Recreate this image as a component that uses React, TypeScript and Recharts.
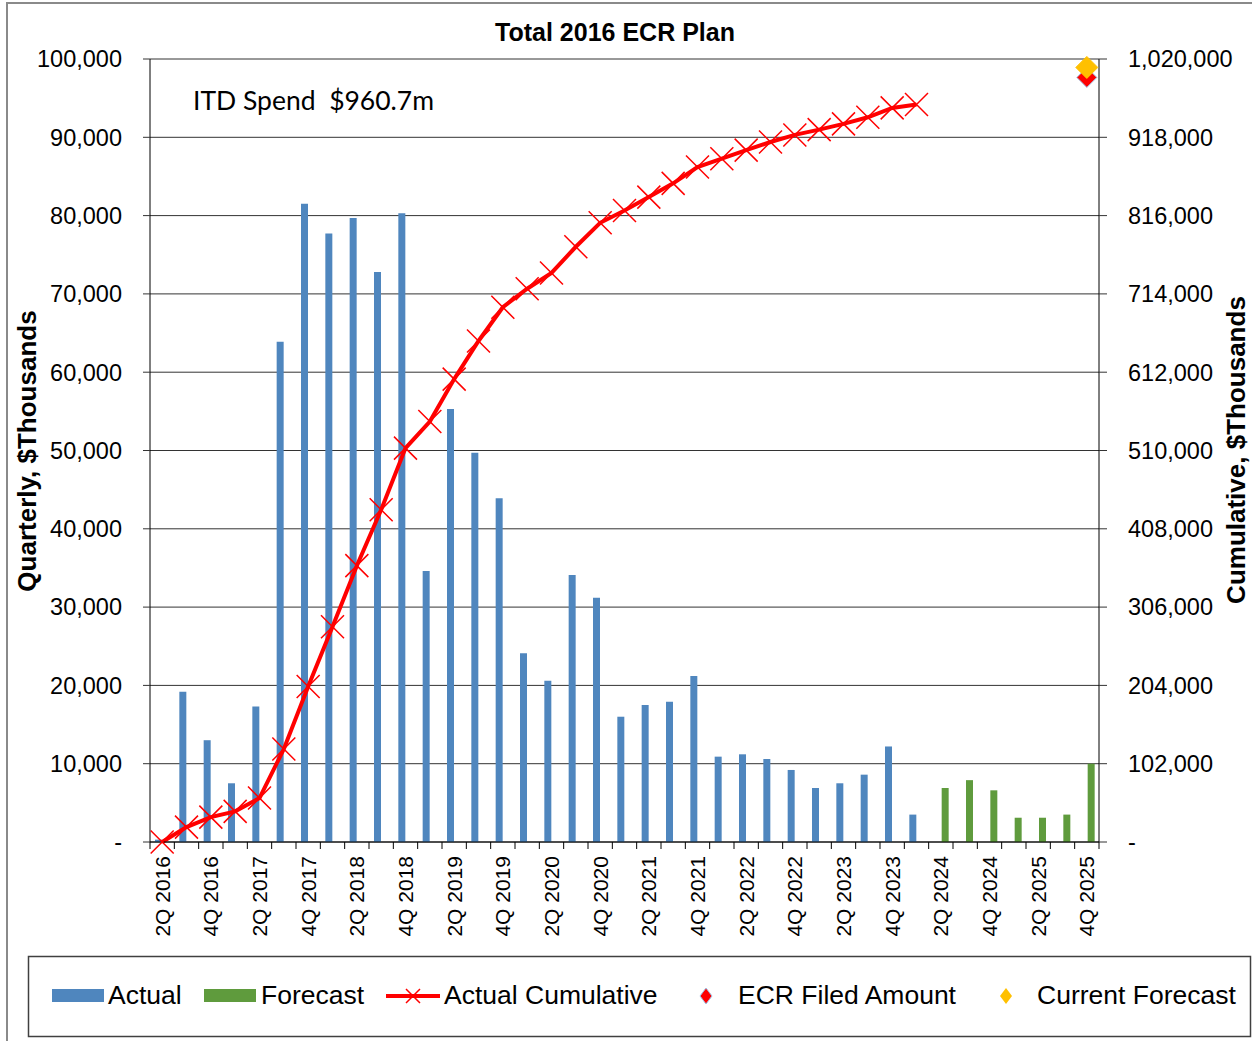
import React from "react"
import { ComposedChart, Bar, Line, XAxis, YAxis, CartesianGrid } from "recharts"

const quarters = [
  "2Q 2016", "3Q 2016", "4Q 2016",
  "1Q 2017", "2Q 2017", "3Q 2017", "4Q 2017",
  "1Q 2018", "2Q 2018", "3Q 2018", "4Q 2018",
  "1Q 2019", "2Q 2019", "3Q 2019", "4Q 2019",
  "1Q 2020", "2Q 2020", "3Q 2020", "4Q 2020",
  "1Q 2021", "2Q 2021", "3Q 2021", "4Q 2021",
  "1Q 2022", "2Q 2022", "3Q 2022", "4Q 2022",
  "1Q 2023", "2Q 2023", "3Q 2023", "4Q 2023",
  "1Q 2024", "2Q 2024", "3Q 2024", "4Q 2024",
  "1Q 2025", "2Q 2025", "3Q 2025", "4Q 2025",
]

// quarterly actual spend, 2Q 2016 .. 1Q 2024 ($ thousands)
const actualQuarterly = [
  300, 19200, 13000, 7500, 17300, 63900, 81500, 77700, 79700, 72800, 80300,
  34600, 55300, 49700, 43900, 24100, 20600, 34100, 31200, 16000, 17500, 17900,
  21200, 10900, 11200, 10600, 9200, 6900, 7500, 8600, 12200, 3500,
]

// quarterly forecast, 2Q 2024 .. 4Q 2025
const forecastQuarterly = [6900, 7900, 6600, 3100, 3100, 3500, 10000]

// cumulative actual spend (right axis)
const actualCumulative = [
  0, 19400, 32400, 39900, 57200, 121100, 202600, 280300, 360000, 432800, 513100,
  547700, 603000, 652700, 696600, 720700, 741300, 775400, 806600, 822600, 840100,
  858000, 879200, 890100, 901300, 911900, 921100, 928000, 935500, 944100, 956300, 960700,
]

const ecrFiledAmount = 996000
const currentForecastAmount = 1009000
const markerQuarter = "4Q 2025"

const leftTicks = [0, 10000, 20000, 30000, 40000, 50000, 60000, 70000, 80000, 90000, 100000]
const rightTicks = [0, 102000, 204000, 306000, 408000, 510000, 612000, 714000, 816000, 918000, 1020000]

const data = quarters.map((q, i) => ({
  q,
  actual: actualQuarterly[i] ?? null,
  forecast: i >= actualQuarterly.length ? forecastQuarterly[i - actualQuarterly.length] ?? null : null,
  cum: actualCumulative[i] ?? null,
  ecr: q === markerQuarter ? ecrFiledAmount : null,
  current: q === markerQuarter ? currentForecastAmount : null,
}))

const FONT = "'Liberation Sans', Arial, sans-serif"
const BLUE = "#4F86BE"
const GREEN = "#5F9B3D"
const RED = "#FF0000"
const GOLD = "#FFC000"
const GRID = "#333"

const CHART_W = 1252
const CHART_H = 950
const MARGIN = { top: 59, right: 13, bottom: 0, left: 10 }
const Y_AXIS_W = 140
const X_AXIS_H = 108
const BAND = (CHART_W - MARGIN.left - MARGIN.right - 2 * Y_AXIS_W) / quarters.length

const fmt = (v: number) => (v === 0 ? "-" : v.toLocaleString("en-US"))

function QuarterTick(props: any) {
  const { x, y, payload } = props
  const idx = payload?.index ?? props.index
  const half = BAND / 2
  return (
    <g>
      <line x1={x - half} x2={x - half} y1={y} y2={y + 7} stroke="#000" />
      {idx === quarters.length - 1 && <line x1={x + half} x2={x + half} y1={y} y2={y + 7} stroke="#000" />}
      {idx % 2 === 0 && (
        <text
          x={x}
          y={y + 14}
          dy="0.36em"
          textAnchor="end"
          transform={`rotate(-90, ${x}, ${y + 14})`}
          fontSize={21}
          fontFamily={FONT}
          fill="#000"
        >
          {payload.value}
        </text>
      )}
    </g>
  )
}

const renderCross = (p: any) => {
  const { cx, cy, value, index } = p
  if (value == null || cx == null || cy == null) return <g key={`x-${index}`} />
  const r = 11.5
  return (
    <path
      key={`x-${index}`}
      d={`M${cx - r},${cy - r}L${cx + r},${cy + r}M${cx - r},${cy + r}L${cx + r},${cy - r}`}
      stroke={RED}
      strokeWidth={1.5}
      fill="none"
    />
  )
}

const diamondDot = (fill: string, stroke: string, r: number) => (p: any) => {
  const { cx, cy, value, index } = p
  if (value == null || cx == null || cy == null) return <g key={`d-${index}`} />
  return (
    <path
      key={`d-${index}`}
      d={`M${cx},${cy - r}L${cx + r},${cy}L${cx},${cy + r}L${cx - r},${cy}Z`}
      fill={fill}
      stroke={stroke}
      strokeWidth={1}
    />
  )
}

function Overlay() {
  const t = { fontFamily: FONT, fill: "#000" }
  return (
    <svg width={1252} height={1041} style={{ position: "absolute", left: 0, top: 0, pointerEvents: "none" }}>
      <text x={615} y={41} textAnchor="middle" fontSize={25} fontWeight={700} {...t}>
        Total 2016 ECR Plan
      </text>
      <text x={193} y={110} fontSize={26.5} fontFamily="Lato, 'Open Sans', sans-serif" fill="#000" style={{ whiteSpace: "pre" }}>
        {"ITD Spend  $960.7m"}
      </text>
      <text x={27} y={451} dy="0.36em" textAnchor="middle" transform="rotate(-90, 27, 451)" fontSize={26} fontWeight={700} {...t}>
        Quarterly, $Thousands
      </text>
      <text x={1236} y={450} dy="0.36em" textAnchor="middle" transform="rotate(-90, 1236, 450)" fontSize={26} fontWeight={700} {...t}>
        Cumulative, $Thousands
      </text>

      {/* legend */}
      <rect x={28.5} y={956.5} width={1222} height={80} fill="#fff" stroke="#404040" strokeWidth={1.5} />
      <rect x={52} y={989} width={52} height={13} fill={BLUE} />
      <text x={108} y={1004} fontSize={26.5} {...t}>Actual</text>
      <rect x={204} y={989} width={52} height={13} fill={GREEN} />
      <text x={261} y={1004} fontSize={26.5} {...t}>Forecast</text>
      <line x1={386} x2={440} y1={996} y2={996} stroke={RED} strokeWidth={4} />
      <path d="M406,989L420,1003M406,1003L420,989" stroke={RED} strokeWidth={1.5} />
      <text x={444} y={1004} fontSize={26.5} {...t}>Actual Cumulative</text>
      <path d="M706,988L712,996L706,1004L700,996Z" fill={RED} stroke="#9DC3E6" strokeWidth={1} />
      <text x={738} y={1004} fontSize={26.5} {...t}>ECR Filed Amount</text>
      <path d="M1006,988L1012,996L1006,1004L1000,996Z" fill={GOLD} />
      <text x={1037} y={1004} fontSize={26.5} {...t}>Current Forecast</text>
    </svg>
  )
}

export default function App() {
  return (
    <div style={{ position: "absolute", left: 0, top: 0, width: 1252, height: 1041, overflow: "hidden", background: "#fff" }}>
      <div style={{ position: "absolute", left: 6, top: 2, width: 1280, height: 1080, border: "2px solid #8a8a8a" }} />
      <div style={{ position: "absolute", left: 0, top: 0 }}>
        <ComposedChart width={CHART_W} height={CHART_H} data={data} margin={MARGIN} barSize={7} barGap={1}>
          <CartesianGrid yAxisId="left" vertical={false} stroke={GRID} />
          <XAxis
            dataKey="q"
            height={X_AXIS_H}
            interval={0}
            tickSize={0}
            tickMargin={0}
            tickLine={false}
            axisLine={{ stroke: "#000" }}
            tick={<QuarterTick />}
          />
          <YAxis
            yAxisId="left"
            width={Y_AXIS_W}
            domain={[0, 100000]}
            ticks={leftTicks}
            interval={0}
            tickFormatter={fmt}
            tickSize={7}
            tickMargin={21}
            axisLine={{ stroke: "#000" }}
            tickLine={{ stroke: GRID }}
            tick={{ fontSize: 23.5, fill: "#000", fontFamily: FONT }}
          />
          <YAxis
            yAxisId="right"
            orientation="right"
            width={Y_AXIS_W}
            domain={[0, 1020000]}
            ticks={rightTicks}
            interval={0}
            tickFormatter={fmt}
            tickSize={8}
            tickMargin={21}
            axisLine={{ stroke: "#000" }}
            tickLine={{ stroke: GRID }}
            tick={{ fontSize: 23.5, fill: "#000", fontFamily: FONT }}
          />
          <Bar yAxisId="left" dataKey="actual" fill={BLUE} isAnimationActive={false} />
          <Bar yAxisId="left" dataKey="forecast" fill={GREEN} isAnimationActive={false} />
          <Line
            yAxisId="right"
            type="linear"
            dataKey="cum"
            stroke={RED}
            strokeWidth={4}
            dot={renderCross}
            activeDot={false}
            isAnimationActive={false}
          />
          <Line
            yAxisId="right"
            dataKey="ecr"
            stroke="none"
            dot={diamondDot(RED, "#9DC3E6", 10)}
            activeDot={false}
            isAnimationActive={false}
          />
          <Line
            yAxisId="right"
            dataKey="current"
            stroke="none"
            dot={diamondDot(GOLD, GOLD, 11)}
            activeDot={false}
            isAnimationActive={false}
          />
        </ComposedChart>
      </div>
      <Overlay />
    </div>
  )
}
